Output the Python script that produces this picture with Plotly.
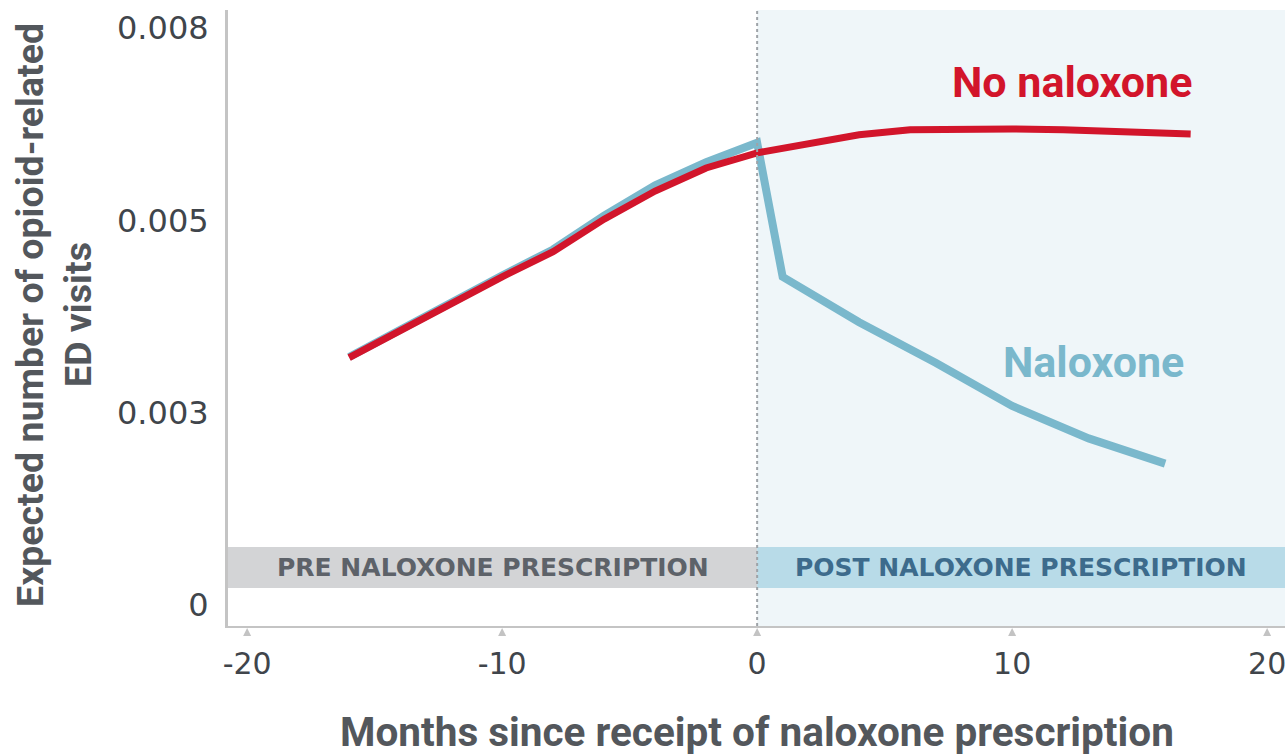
import plotly.graph_objects as go

# months relative to naloxone prescription and expected ED visits
months_no_nal = [-16, -14, -12, -10, -8, -6, -4, -2, 0, 2, 4, 6, 8, 10, 12, 14, 17]
visits_no_nal = [0.00343, 0.00380, 0.00419, 0.00455, 0.00490, 0.00535, 0.00574, 0.00606, 0.00627,
                 0.00640, 0.00652, 0.00659, 0.00660, 0.00660, 0.00659, 0.00657, 0.00653]

months_nal = [-16, -14, -12, -10, -8, -6, -4, -2, 0, 1, 4, 7, 10, 13, 16]
visits_nal = [0.00344, 0.00382, 0.00421, 0.00457, 0.00493, 0.00540, 0.00582, 0.00614, 0.00641,
              0.00455, 0.00392, 0.00336, 0.00276, 0.00231, 0.00196]

x_ticks = [-20, -10, 0, 10, 20]
x_tick_text = ["-20", "-10", "0", "10", "20"]
y_ticks = [0, 0.008 / 3, 0.016 / 3, 0.008]
y_tick_text = ["0", "0.003", "0.005", "0.008"]

RED = "#d2152b"
BLUE = "#7ab8cc"
AXIS_GREY = "#c4c4c4"
TITLE_GREY = "#53575c"

X_RANGE = [-20.75, 20.7]
Y_RANGE = [-0.000291, 0.00825]
BAND = [0.000236, 0.000804]

fig = go.Figure()

# light blue post-prescription background
fig.add_shape(type="rect", xref="x", yref="paper", x0=0, x1=X_RANGE[1], y0=0, y1=1,
              fillcolor="#eff6f9", line_width=0, layer="below")
# period bands
fig.add_shape(type="rect", xref="x", yref="y", x0=X_RANGE[0], x1=0, y0=BAND[0], y1=BAND[1],
              fillcolor="#d3d4d6", line_width=0, layer="below")
fig.add_shape(type="rect", xref="x", yref="y", x0=0, x1=X_RANGE[1], y0=BAND[0], y1=BAND[1],
              fillcolor="#b8dbe8", line_width=0, layer="below")
# dotted divider
fig.add_shape(type="line", xref="x", yref="paper", x0=0, x1=0, y0=0, y1=1,
              line=dict(color="#9ea3a8", width=2, dash="dot"))

# little triangle tick marks under the x axis (pixel sized, anchored at each tick)
for t in x_ticks:
    fig.add_shape(type="path", xref="x", yref="paper", xsizemode="pixel", ysizemode="pixel",
                  xanchor=t, yanchor=0, path="M-4,-10 L4,-10 L0,-2 Z",
                  fillcolor="#c3c3c3", line_width=0)

fig.add_trace(go.Scatter(x=months_nal, y=visits_nal, mode="lines", name="Naloxone",
                         line=dict(color=BLUE, width=8)))
fig.add_trace(go.Scatter(x=months_no_nal, y=visits_no_nal, mode="lines", name="No naloxone",
                         line=dict(color=RED, width=7)))

band_y = (BAND[0] + BAND[1]) / 2
fig.add_annotation(x=(X_RANGE[0] + 0) / 2, y=band_y, text="<b>PRE NALOXONE PRESCRIPTION</b>",
                   showarrow=False, font=dict(family="DejaVu Sans", size=25, color="#5d6269"))
fig.add_annotation(x=(0 + X_RANGE[1]) / 2, y=band_y, text="<b>POST NALOXONE PRESCRIPTION</b>",
                   showarrow=False, font=dict(family="DejaVu Sans", size=25, color="#3d6b8c"))

fig.add_annotation(x=12.35, y=0.00725, text="<b>No naloxone</b>", showarrow=False,
                   font=dict(family="Roboto", size=43, color=RED))
fig.add_annotation(x=13.2, y=0.00337, text="<b>Naloxone</b>", showarrow=False,
                   font=dict(family="Roboto", size=43, color=BLUE))

# axis titles
fig.add_annotation(xref="paper", yref="paper", x=-0.1873, y=0.505, textangle=-90,
                   xanchor="center", yanchor="middle",
                   text="<b>Expected number of opioid-related</b>", showarrow=False,
                   font=dict(family="Roboto", size=37.5, color=TITLE_GREY))
fig.add_annotation(xref="paper", yref="paper", x=-0.1419, y=0.505, textangle=-90,
                   xanchor="center", yanchor="middle",
                   text="<b>ED visits</b>", showarrow=False,
                   font=dict(family="Roboto", size=37.5, color=TITLE_GREY))
fig.add_annotation(xref="paper", yref="paper", x=0.5, y=-0.172,
                   xanchor="center", yanchor="middle",
                   text="<b>Months since receipt of naloxone prescription</b>", showarrow=False,
                   font=dict(family="Roboto", size=40.5, color=TITLE_GREY))

fig.update_layout(
    width=1285,
    height=755,
    margin=dict(l=228, r=0, t=10, b=129),
    plot_bgcolor="white",
    paper_bgcolor="white",
    showlegend=False,
)
fig.update_xaxes(
    range=X_RANGE,
    tickvals=x_ticks,
    ticktext=x_tick_text,
    showgrid=False,
    zeroline=False,
    showline=True,
    linecolor=AXIS_GREY,
    linewidth=2,
    ticks="",
    ticklabelstandoff=10,
    ticklabeloverflow="allow",
    tickfont=dict(family="DejaVu Sans", size=30, color="#40454b"),
)
fig.update_yaxes(
    range=Y_RANGE,
    tickvals=y_ticks,
    ticktext=y_tick_text,
    showgrid=False,
    zeroline=False,
    showline=True,
    linecolor=AXIS_GREY,
    linewidth=3,
    ticks="",
    ticklabelstandoff=10,
    tickfont=dict(family="DejaVu Sans", size=32, color="#40454b"),
)

fig.write_html("out.html", config={"displayModeBar": False},
               post_script="document.body.style.margin='0';")
